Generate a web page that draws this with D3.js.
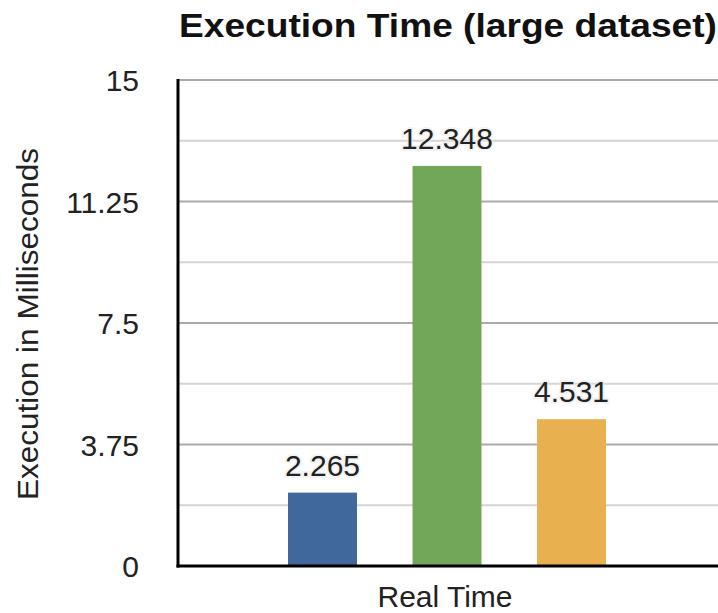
<!DOCTYPE html>
<html>
<head>
<meta charset="utf-8">
<script src="https://cdn.jsdelivr.net/npm/d3@7"></script>
<style>
  html, body { margin: 0; padding: 0; background: #fff; }
  svg { display: block; font-family: "Liberation Sans", Arial, Helvetica, sans-serif; }
</style>
</head>
<body>
<svg id="chart" width="718" height="613"></svg>
<script>
const categories = ["Real Time"];
const seriesNames = ["A", "B", "C"];
const seriesValues = [2.265, 12.348, 4.531];
const seriesColors = ["#41689c", "#72a75a", "#e8b04f"];
const valueLabels = ["2.265", "12.348", "4.531"];
const majorTicks = [0, 3.75, 7.5, 11.25, 15];
const tickLabels = ["0", "3.75", "7.5", "11.25", "15"];
const minorTicks = [1.875, 5.625, 9.375, 13.125];
const titleText = "Execution Time (large dataset)";
const yTitle = "Execution in Milliseconds";

const svg = d3.select("#chart");
const plotLeft = 178, plotRight = 718, plotTop = 80, plotBottom = 566;

const y = d3.scaleLinear().domain([0, 15]).range([plotBottom, plotTop]);
const x = d3.scaleBand().domain(seriesNames).range([288, 606]).paddingInner(0.446).paddingOuter(0);

// minor gridlines
svg.append("g").selectAll("line").data(minorTicks).join("line")
  .attr("x1", plotLeft).attr("x2", plotRight)
  .attr("y1", d => y(d)).attr("y2", d => y(d))
  .attr("stroke", "#d4d4d4").attr("stroke-width", 2);

// major gridlines
svg.append("g").selectAll("line").data(majorTicks.filter(d => d > 0)).join("line")
  .attr("x1", plotLeft).attr("x2", plotRight)
  .attr("y1", d => y(d)).attr("y2", d => y(d))
  .attr("stroke", "#aaaaaa").attr("stroke-width", 2);

// bars
svg.append("g").selectAll("rect").data(seriesValues).join("rect")
  .attr("x", (d, i) => x(seriesNames[i]))
  .attr("width", x.bandwidth())
  .attr("y", d => y(d))
  .attr("height", d => plotBottom - y(d))
  .attr("fill", (d, i) => seriesColors[i]);

// value labels
svg.append("g").selectAll("text").data(seriesValues).join("text")
  .attr("x", (d, i) => x(seriesNames[i]) + x.bandwidth() / 2)
  .attr("y", d => y(d) - 17)
  .attr("text-anchor", "middle")
  .attr("font-size", 30)
  .attr("fill", "#222")
  .attr("paint-order", "stroke")
  .attr("stroke", "rgba(235,235,235,0.6)")
  .attr("stroke-width", 4)
  .text((d, i) => valueLabels[i]);

// y axis (labels only via d3 axis)
const yAxis = d3.axisLeft(y).tickValues(majorTicks).tickFormat((d, i) => tickLabels[i]).tickSize(0).tickPadding(0);
const gy = svg.append("g").attr("transform", `translate(139,0)`).call(yAxis);
gy.select(".domain").remove();
gy.selectAll("text").attr("font-size", 30).attr("fill", "#222")
  .attr("font-family", "Liberation Sans, Arial, sans-serif").attr("dy", "0.36em");

// axis lines
svg.append("line").attr("x1", plotLeft).attr("x2", plotLeft).attr("y1", plotTop - 1).attr("y2", plotBottom + 1.5)
  .attr("stroke", "#000").attr("stroke-width", 3);
svg.append("line").attr("x1", plotLeft - 1.5).attr("x2", plotRight).attr("y1", plotBottom).attr("y2", plotBottom)
  .attr("stroke", "#000").attr("stroke-width", 3);

// x category label
svg.append("text").attr("x", 445).attr("y", 607).attr("text-anchor", "middle")
  .attr("font-size", 30).attr("fill", "#222").text(categories[0]);

// y title
svg.append("text").attr("transform", "translate(38,324) rotate(-90)")
  .attr("text-anchor", "middle").attr("font-size", 30).attr("fill", "#222")
  .attr("textLength", 352).attr("lengthAdjust", "spacingAndGlyphs")
  .text(yTitle);

// title
svg.append("text").attr("x", 179).attr("y", 37)
  .attr("font-size", 33).attr("font-weight", "bold").attr("fill", "#111")
  .attr("textLength", 538).attr("lengthAdjust", "spacingAndGlyphs")
  .text(titleText);
</script>
</body>
</html>
